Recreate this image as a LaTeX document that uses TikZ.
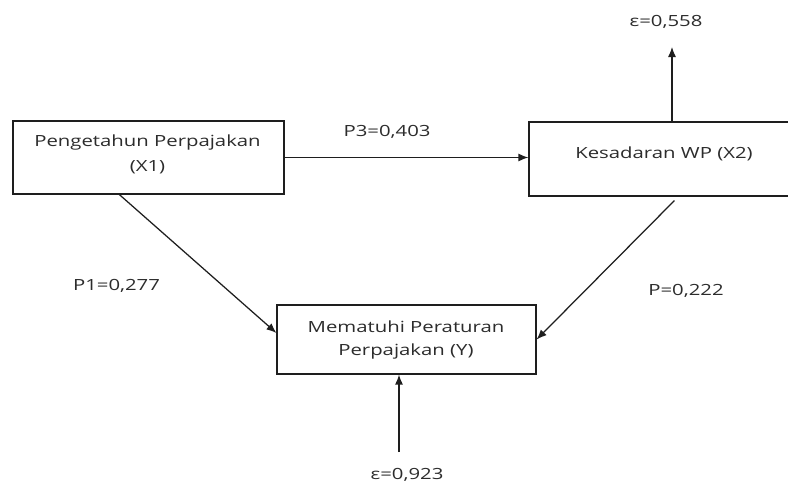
\documentclass[tikz,border=0pt]{standalone}
\usepackage{fontspec}
\setmainfont[FakeStretch=1.32]{Open Sans}
\usetikzlibrary{arrows.meta}
\definecolor{txt}{HTML}{2C2C2C}
\definecolor{ln}{HTML}{1E1E1E}
\tikzset{
  box/.style={draw=ln, line width=1.2pt, rectangle, inner sep=0pt},
  lbl/.style={anchor=base, inner sep=0pt, text=txt, font=\fontsize{15.4}{25}\selectfont},
  arr/.style={draw=ln, line width=1.25pt, -{Latex[length=10pt,width=8pt]}}
}
\begin{document}
\begin{tikzpicture}[x=1pt,y=-1pt]
\useasboundingbox[fill=white] (0,0) rectangle (788,482);
% boxes
\node[box, minimum width=271pt, minimum height=73pt] (x1) at (148.5,157.5) {};
\node[box, minimum width=262pt, minimum height=74pt] (x2) at (660,159) {};
\node[box, minimum width=259pt, minimum height=69pt] (y) at (406.5,339.5) {};
% box texts
\node[lbl] (t1a) at (147.5,146) {Pengetahun Perpajakan};
\node[lbl] (t1b) at (147.5,171) {(X1)};
\node[lbl] (t2) at (664,158) {Kesadaran WP (X2)};
\node[lbl] (t3a) at (406,332) {Mematuhi Peraturan};
\node[lbl] (t3b) at (406,355) {Perpajakan (Y)};
% labels
\node[lbl] (p3) at (387,136) {P3=0,403};
\node[lbl] (p1) at (116.5,290) {P1=0,277};
\node[lbl] (p2) at (686,295) {P=0,222};
\node[lbl] (e1) at (666,26) {ε=0,558};
\node[lbl] (e2) at (407,479) {ε=0,923};
% free ends
\coordinate (u2) at (672,47);
\coordinate (u3) at (399,452);
% connectors
\draw[arr] (x1.east) -- (x1.east -| x2.west);
\draw[arr] (x2.north -| u2) -- (u2);
\draw[arr] ([xshift=107pt]x1.south west) -- ([yshift=6.5pt]y.west);
\draw[arr] ([xshift=146pt,yshift=-4pt]x2.south west) -- (y.east);
\draw[arr] (u3) -- (u3 |- y.south);
\end{tikzpicture}
\end{document}
